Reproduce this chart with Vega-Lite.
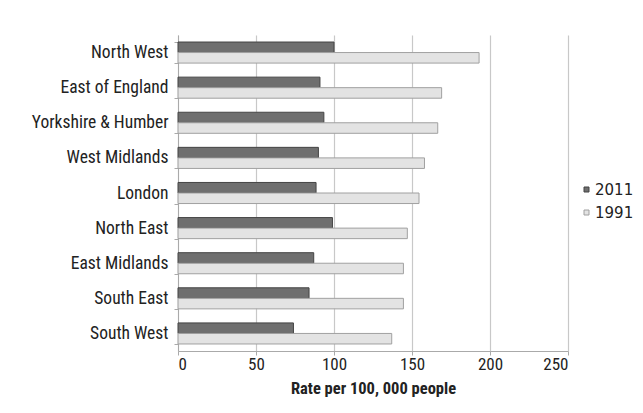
{
  "$schema": "https://vega.github.io/schema/vega-lite/v6.json",
  "width": 390,
  "height": 316,
  "padding": {"left": 31, "top": 26, "right": 5, "bottom": 5},
  "background": "white",
  "data": {
    "values": [
      {"region": "North West", "year": "2011", "rate": 100},
      {"region": "North West", "year": "1991", "rate": 193},
      {"region": "East of England", "year": "2011", "rate": 91},
      {"region": "East of England", "year": "1991", "rate": 169},
      {"region": "Yorkshire & Humber", "year": "2011", "rate": 93.5},
      {"region": "Yorkshire & Humber", "year": "1991", "rate": 166.5},
      {"region": "West Midlands", "year": "2011", "rate": 90},
      {"region": "West Midlands", "year": "1991", "rate": 158},
      {"region": "London", "year": "2011", "rate": 88.5},
      {"region": "London", "year": "1991", "rate": 154.5},
      {"region": "North East", "year": "2011", "rate": 99},
      {"region": "North East", "year": "1991", "rate": 147},
      {"region": "East Midlands", "year": "2011", "rate": 87},
      {"region": "East Midlands", "year": "1991", "rate": 144.5},
      {"region": "South East", "year": "2011", "rate": 84},
      {"region": "South East", "year": "1991", "rate": 144.5},
      {"region": "South West", "year": "2011", "rate": 74},
      {"region": "South West", "year": "1991", "rate": 137}
    ]
  },
  "mark": {"type": "bar", "strokeWidth": 1},
  "encoding": {
    "y": {
      "field": "region",
      "type": "nominal",
      "sort": null,
      "scale": {"paddingInner": 0.4, "paddingOuter": 0.2},
      "axis": {
        "title": null,
        "labelFont": "Liberation Sans Narrow, Roboto Condensed, Roboto",
        "labelFontSize": 17.5,
        "labelColor": "#222",
        "labelPadding": 6,
        "domainColor": "#aaaaaa",
        "tickColor": "#aaaaaa",
        "tickBand": "extent",
        "tickSize": 4,
        "grid": false
      }
    },
    "yOffset": {"field": "year", "type": "nominal", "sort": ["2011", "1991"]},
    "x": {
      "field": "rate",
      "type": "quantitative",
      "scale": {"domain": [0, 250]},
      "axis": {
        "title": "Rate per 100, 000 people",
        "titleFont": "Liberation Sans Narrow, Roboto Condensed, Roboto",
        "titleFontSize": 16.5,
        "titleFontWeight": "bold",
        "titleColor": "#222",
        "titlePadding": 8,
        "values": [0, 50, 100, 150, 200, 250],
        "labelFont": "Liberation Sans Narrow, Roboto Condensed, Roboto",
        "labelFontSize": 17,
        "labelColor": "#222",
        "labelPadding": 1,
        "grid": true,
        "gridColor": "#c8c8c8",
        "gridWidth": 1.2,
        "domainColor": "#aaaaaa",
        "tickColor": "#aaaaaa",
        "tickSize": 4
      }
    },
    "color": {
      "field": "year",
      "type": "nominal",
      "scale": {"domain": ["2011", "1991"], "range": ["#6f6f6f", "#e3e3e3"]},
      "legend": {
        "title": null,
        "orient": "none",
        "legendX": 401,
        "legendY": 147,
        "symbolType": "square",
        "symbolSize": 25,
        "symbolStrokeColor": "#888",
        "symbolStrokeWidth": 1,
        "labelFont": "DejaVu Sans",
        "labelFontSize": 15,
        "labelColor": "#222",
        "labelOffset": 1,
        "rowPadding": 7
      }
    },
    "stroke": {
      "field": "year",
      "type": "nominal",
      "scale": {"domain": ["2011", "1991"], "range": ["#444444", "#a0a0a0"]},
      "legend": null
    }
  },
  "config": {"view": {"stroke": null}}
}
